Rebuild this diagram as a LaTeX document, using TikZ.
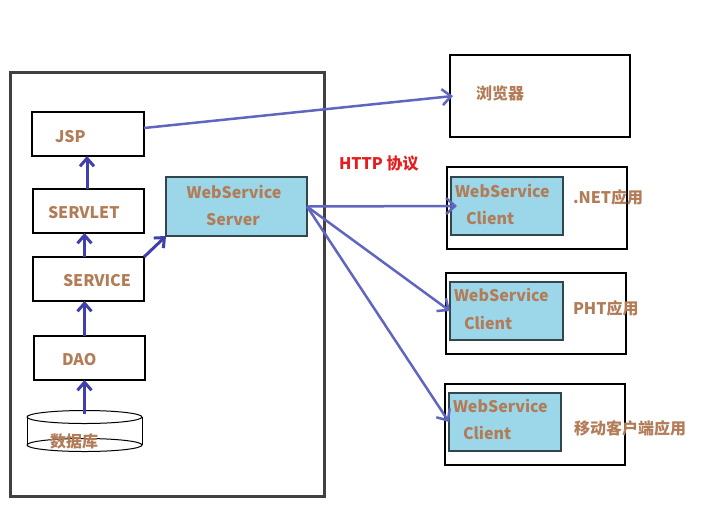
\documentclass[tikz,border=0pt]{standalone}
\usepackage{fontspec}
\newfontfamily\cjk{Noto Sans CJK SC}
\usetikzlibrary{arrows.meta}
\definecolor{txt}{RGB}{178,124,88}
\definecolor{wsfill}{RGB}{155,215,232}
\definecolor{wsline}{RGB}{50,70,75}
\definecolor{arrA}{RGB}{64,64,170}
\definecolor{arrB}{RGB}{96,102,192}
\definecolor{framegray}{RGB}{64,64,64}
\definecolor{httpred}{RGB}{228,30,30}
\begin{document}
\begin{tikzpicture}[x=1pt,y=-1pt,
  every node/.style={inner sep=0pt, outer sep=0pt},
  box/.style={draw=black, line width=1.3pt},
  wsbox/.style={draw=wsline, fill=wsfill, line width=1.3pt},
  lbl/.style={font=\cjk\bfseries\fontsize{16}{16}\selectfont, text=txt},
  up/.style={draw=arrA, line width=3pt, -{Straight Barb[length=8pt,width=14pt]}},
  far/.style={draw=arrB, line width=2.5pt, -{Straight Barb[length=9pt,width=16pt]}}]
\useasboundingbox (0,0) rectangle (715,515);

% outer frame
\node[draw=framegray, line width=3pt, minimum width=314pt, minimum height=424pt] (outer) at (167,284) {};

% left boxes
\node[box, minimum width=112pt, minimum height=44pt] (jsp) at (88,134) {};
\node[box, minimum width=111pt, minimum height=44pt] (servlet) at (88.5,211) {};
\node[box, minimum width=111pt, minimum height=44pt] (svc) at (88.5,279) {};
\node[box, minimum width=111pt, minimum height=44pt] (dao) at (89.5,358) {};
\node[lbl, anchor=west] (tjsp) at (55,137) {JSP};
\node[lbl, anchor=west] (tservlet) at (48,213) {SERVLET};
\node[lbl, anchor=west] (tsvc) at (63,281) {SERVICE};
\node[lbl, anchor=west] (tdao) at (62,360) {DAO};

% database cylinder
\node[minimum width=115pt, minimum height=34pt] (db) at (84.5,431) {};
\draw[line width=1pt] (84.5,417) ellipse [x radius=57.5, y radius=6.5];
\draw[line width=1pt] (27,417) -- (27,445) (142,417) -- (142,445);
\draw[line width=1pt] (84.5,445) ellipse [x radius=57.5, y radius=6.5];
\node[lbl, anchor=west] (tdb) at (50,441) {数据库};

% server
\node[wsbox, minimum width=141pt, minimum height=59pt] (server) at (236.5,206.5) {};
\node[lbl] (tserver1) at (234,192) {WebService};
\node[lbl] (tserver2) at (233,220) {Server};

% browser
\node[box, minimum width=180pt, minimum height=82pt] (browser) at (540,96) {};
\node[lbl, anchor=west] (tbrowser) at (476,93) {浏览器};

% http label
\node[font=\cjk\bfseries\fontsize{16}{16}\selectfont, text=httpred, anchor=west] (http) at (339,164) {HTTP 协议};

% client boxes
\node[box, minimum width=180pt, minimum height=82pt] (o1) at (537,208) {};
\node[wsbox, minimum width=112pt, minimum height=58pt] (c1) at (507,206) {};
\node[lbl, anchor=west] (c1a) at (455,191) {WebService};
\node[lbl, anchor=west] (c1b) at (466,218) {Client};
\node[lbl, anchor=west] (c1n) at (573,197) {.NET应用};

\node[box, minimum width=180pt, minimum height=81pt] (o2) at (536,313.5) {};
\node[wsbox, minimum width=113pt, minimum height=58pt] (c2) at (506.5,311) {};
\node[lbl, anchor=west] (c2a) at (454,295) {WebService};
\node[lbl, anchor=west] (c2b) at (464,323) {Client};
\node[lbl, anchor=west] (c2n) at (573,308) {PHT应用};

\node[box, minimum width=180pt, minimum height=81pt] (o3) at (535,424.5) {};
\node[wsbox, minimum width=112pt, minimum height=58pt] (c3) at (505,422) {};
\node[lbl, anchor=west] (c3a) at (453,406) {WebService};
\node[lbl, anchor=west] (c3b) at (463,433) {Client};
\node[lbl, anchor=west] (c3n) at (574,428) {移动客户端应用};

% arrows
\draw[up] (db.north) -- (db.north |- dao.south);
\draw[up] ([xshift=-5pt]dao.north) -- ([xshift=-5pt]dao.north |- svc.south);
\draw[up] ([xshift=-4pt]svc.north) -- ([xshift=-4pt]svc.north |- servlet.south);
\draw[up] ([xshift=-1.5pt]servlet.north) -- ([xshift=-1.5pt]servlet.north |- jsp.south);
\draw[up] (svc.north east) -- (server.south west);
\draw[far] ([yshift=6pt]jsp.east) -- ([xshift=3pt]browser.west);
\draw[far] (server.east) -- ([xshift=6pt]c1.west);
\draw[far] (server.east) -- (c2.west);
\draw[far] (server.east) -- (c3.west);
\end{tikzpicture}
\end{document}
